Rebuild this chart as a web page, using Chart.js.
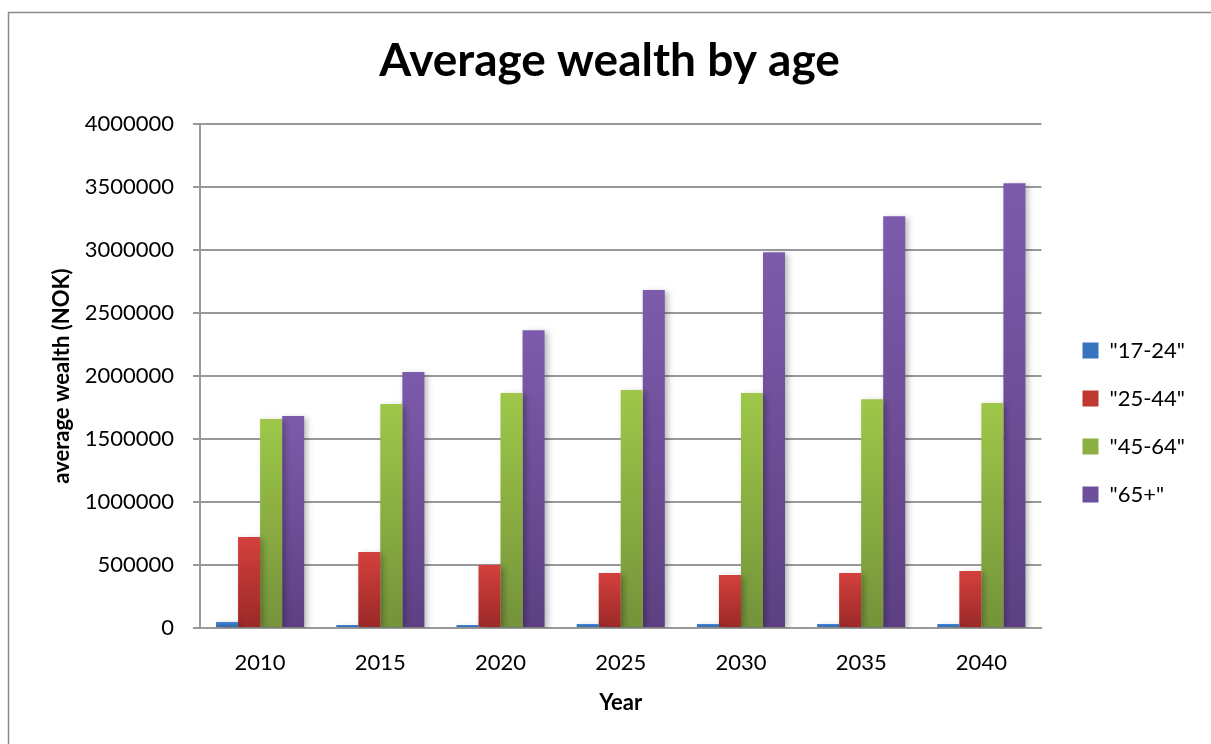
<!DOCTYPE html>
<html>
<head>
<meta charset="utf-8">
<title>Average wealth by age</title>
<script src="https://cdn.jsdelivr.net/npm/chart.js@4.4.1/dist/chart.umd.min.js"></script>
<style>
    html, body { margin: 0; padding: 0; background: #fff; }
    #wrap { position: relative; width: 1211px; height: 744px; }
</style>
</head>
<body>
<div id="wrap"><canvas id="wealth-chart"></canvas></div>
<script>
// 数据
const years = ['2010', '2015', '2020', '2025', '2030', '2035', '2040'];
const age17to24 = [48000, 24000, 24000, 32000, 32000, 32000, 32000];
const age25to44 = [722000, 603000, 500000, 437000, 421000, 437000, 452000];
const age45to64 = [1659000, 1778000, 1865000, 1889000, 1865000, 1817000, 1786000];
const age65plus = [1683000, 2032000, 2365000, 2683000, 2984000, 3270000, 3532000];
const groupLabels = ['"17-24"', '"25-44"', '"45-64"', '"65+"'];
const yTicks = [0, 500000, 1000000, 1500000, 2000000, 2500000, 3000000, 3500000, 4000000];

// 每个系列的渐变色 (上浅下深)
const palette = [
    { top: '#4383d2', bottom: '#2d64a6', legend: '#3874bd' },
    { top: '#d4403d', bottom: '#9a2927', legend: '#c0392f' },
    { top: '#9ec749', bottom: '#74933a', legend: '#8cb042' },
    { top: '#7d5bac', bottom: '#5d4083', legend: '#6e4f9b' }
];

const GRID_COLOR = '#999999';

Chart.defaults.font.family = 'Lato, "Open Sans", sans-serif';
Chart.defaults.color = '#000';

// 按柱子自身高度生成渐变
function barGradient(top, bottom) {
    return (c) => {
        const chart = c.chart;
        const y = chart.scales && chart.scales.y;
        if (!y || c.raw === undefined) return top;
        const yTop = y.getPixelForValue(c.raw);
        const yBase = y.getPixelForValue(0);
        if (!isFinite(yTop) || yBase - yTop < 1) return top;
        const g = chart.ctx.createLinearGradient(0, yTop, 0, yBase);
        g.addColorStop(0, top);
        g.addColorStop(1, bottom);
        return g;
    };
}

// 白底和外边框
const framePlugin = {
    id: 'frame',
    beforeDraw(chart) {
        const ctx = chart.ctx;
        ctx.save();
        ctx.fillStyle = '#fff';
        ctx.fillRect(0, 0, chart.width, chart.height);
        ctx.strokeStyle = '#8a8a8a';
        ctx.lineWidth = 1.5;
        ctx.strokeRect(8.5, 12.5, chart.width + 20, chart.height + 20);
        ctx.restore();
    }
};

// 柱子阴影
const shadowPlugin = {
    id: 'barShadow',
    beforeDatasetsDraw(chart) {
        const ctx = chart.ctx;
        ctx.save();
        ctx.shadowColor = 'rgba(0, 0, 0, 0.28)';
        ctx.shadowBlur = 6;
        ctx.shadowOffsetX = 3;
        ctx.shadowOffsetY = 2;
    },
    afterDatasetsDraw(chart) {
        chart.ctx.restore();
    }
};

const seriesData = [age17to24, age25to44, age45to64, age65plus];

const datasets = seriesData.map((data, i) => ({
    label: groupLabels[i],
    data: data,
    backgroundColor: barGradient(palette[i].top, palette[i].bottom),
    borderWidth: 0,
    categoryPercentage: 0.733,
    barPercentage: 1.0
}));

const ctx = document.getElementById('wealth-chart').getContext('2d');
const wealthChart = new Chart(ctx, {
    type: 'bar',
    data: {
        labels: years,
        datasets: datasets
    },
    options: {
        responsive: true,
        maintainAspectRatio: false,
        animation: false,
        layout: {
            padding: { top: 0, left: 24, right: 16, bottom: 0 }
        },
        plugins: {
            title: {
                display: true,
                text: 'Average wealth by age',
                color: '#000',
                font: { size: 46, weight: 'bold' },
                padding: { top: 34, bottom: 35 }
            },
            legend: {
                display: true,
                position: 'right',
                fullSize: false,
                title: {
                    display: true,
                    text: ' ',
                    font: { size: 10 },
                    padding: { top: 81, bottom: 0 }
                },
                labels: {
                    boxWidth: 16,
                    boxHeight: 16,
                    padding: 26,
                    color: '#000',
                    font: { size: 22 },
                    generateLabels(chart) {
                        const items = Chart.defaults.plugins.legend.labels.generateLabels(chart);
                        items.forEach((item, i) => {
                            item.fillStyle = palette[i].legend;
                            item.lineWidth = 0;
                            item.strokeStyle = 'rgba(0,0,0,0)';
                        });
                        return items;
                    }
                }
            },
            tooltip: { enabled: false }
        },
        scales: {
            x: {
                grid: { display: false, drawTicks: false },
                border: { display: true, color: GRID_COLOR, width: 2 },
                ticks: {
                    font: { size: 22 },
                    color: '#000',
                    padding: 22
                },
                title: {
                    display: true,
                    text: 'Year',
                    color: '#000',
                    font: { size: 22, weight: 'bold' },
                    padding: { top: 0, bottom: 28 }
                },
                afterFit(scale) {
                    scale.height = 116;
                }
            },
            y: {
                min: 0,
                max: 4000000,
                afterBuildTicks(scale) {
                    scale.ticks = yTicks.map(v => ({ value: v }));
                },
                grid: {
                    color: GRID_COLOR,
                    lineWidth: 2,
                    tickLength: 7,
                    drawTicks: true
                },
                border: { display: true, color: GRID_COLOR, width: 2 },
                ticks: {
                    font: { size: 22 },
                    color: '#000',
                    padding: 19,
                    callback: (value) => String(value)
                },
                title: {
                    display: true,
                    text: 'average wealth (NOK)',
                    color: '#000',
                    font: { size: 22, weight: 'bold' },
                    padding: { top: 25, bottom: 0 }
                },
                afterFit(scale) {
                    scale.width = 176;
                }
            },
            // 图区与图例之间的留白
            gap: {
                type: 'linear',
                position: 'right',
                display: true,
                grid: { display: false, drawTicks: false },
                border: { display: false },
                ticks: { display: false },
                afterFit(scale) {
                    scale.width = 15;
                }
            }
        }
    },
    plugins: [framePlugin, shadowPlugin]
});
</script>
</body>
</html>
